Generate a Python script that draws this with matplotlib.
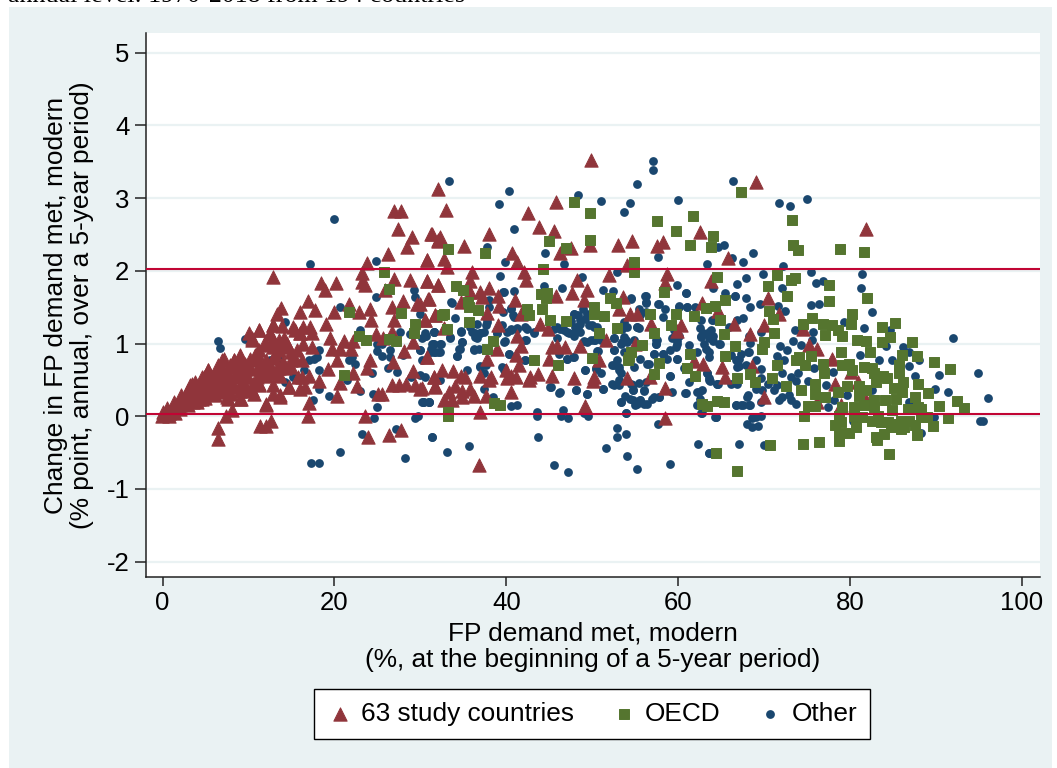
import numpy as np
import matplotlib
matplotlib.use("Agg")
import matplotlib.pyplot as plt
from matplotlib.patches import Rectangle

plt.rcParams['font.family'] = ['Liberation Sans', 'DejaVu Sans']
plt.rcParams['axes.unicode_minus'] = False

x_ticks = [0, 20, 40, 60, 80, 100]
y_ticks = [-2, -1, 0, 1, 2, 3, 4, 5]
ref_lines = [0.03, 2.03]
x_title = "FP demand met, modern\n(%, at the beginning of a 5-year period)"
y_title = "Change in FP demand met, modern\n(% point, annual, over a 5-year period)"
cut_title = "annual level: 1970-2018 from 194 countries"
labels = ["63 study countries", "OECD", "Other"]

# valori: (domanda soddisfatta, variazione annua)
other_pts = [
    (20.0,2.71),(17.2,2.1),(24.8,2.13),(29.3,1.74),(29.4,1.64),(24.8,1.64),(20.7,1.5),(30,1.4),(14.3,1.3),(6.5,1.03),
    (6.7,.94),(9.6,1.06),(23,1.18),(27.6,1.16),(31.6,1.16),(30.7,1.11),(30.2,1.07),(28.8,1.13),(25,1),(25.5,1),
    (26.5,.91),(25,.9),(25.5,.83),(26.5,.82),(28,.84),(30,.91),(31.4,1),(31.7,.88),(30.2,.78),(18,.82),
    (18.2,.91),(17,.78),(17.6,.79),(18.2,.63),(21.7,.78),(22,.81),(22.4,.72),(26.2,.66),(27.3,.61),(24.4,.59),
    (21.5,.5),(28.9,.54),(30,.57),(16.5,.63),(15.2,.54),(14.2,.47),(12.5,.78),(13.5,.77),(18.2,.38),(23,.35),
    (24.5,.31),(19.4,.28),(17.5,.23),(25,.13),(30.3,.2),(31,.2),(24.6,-.03),(29.4,-.02),(29.7,.01),(23.2,-.24),
    (27.2,-.18),(31.3,-.29),(20.6,-.49),(17.3,-.64),(18.2,-.64),(28.2,-.57),
    (57.1,3.51),(57.1,3.39),(33.3,3.23),(55.2,3.2),(40.3,3.1),(48.4,3.04),(39.2,2.92),(51,2.96),(54.4,2.93),(53.7,2.81),
    (60,2.97),(40.9,2.57),(37.8,2.33),(44.5,2.25),(39.8,2.12),(46.7,2.1),(57.6,2.19),(63.4,2.1),(39.3,1.93),(48.8,1.92),
    (52.9,1.98),(44.4,1.79),(46.5,1.77),(40.9,1.72),(39.6,1.71),(51.2,1.74),(52.4,1.72),(59.9,1.81),(60.9,1.7),(64.1,1.77),
    (33.6,1.57),(38,1.6),(56.1,1.66),(56.2,1.57),(54.5,1.61),(57.7,1.55),(40.5,1.49),(55.4,1.47),(58.5,1.47),(60.1,1.51),
    (61,1.5),(62,1.5),(39.6,1.43),(47.9,1.41),(40.8,1.39),(34,1.35),(47.5,1.31),(49.2,1.34),(48.4,1.39),(48,1.23),
    (48.6,1.27),(48.9,1.47),(50,1.25),(50.6,1.23),(41.3,1.22),(42.2,1.23),(43.2,1.15),(40.5,1.18),(39.5,1.25),(37.8,1.3),
    (36.6,1.27),(36,1.16),(37,1.14),(36.4,1.09),(34.7,1.17),(31.6,1.16),(30.6,1.11),(33.4,1.08),(38.9,1.14),(39.9,1.03),
    (34.9,1.02),(32.4,.99),(31.5,.99),(34.6,.93),(31.2,.89),(32.1,.89),(36.2,.91),(34.3,.83),(42.3,1.05),(40.3,.86),
    (42.2,.77),(45.9,1.23),(46.7,1.18),(47.3,1.14),(47.9,1.11),(45.9,1.07),(49,1.04),(49.8,1.05),(50.7,.9),(52.5,.91),
    (53.3,.99),(54.1,1.02),(52.5,1.07),(54.9,1.05),(52.9,.77),(52.3,.7),(53.1,.68),(53.3,.59),(53.1,.5),(52.3,.44),
    (54.9,.68),(55.6,.79),(56.4,.72),(57.2,.86),(58.2,.86),(58.7,.79),(59.9,.79),(57.4,1),(57.5,1.05),(59.5,1.09),
    (59.9,1),(55.2,1.23),(55.4,1.21),(54.1,1.23),(62.5,1.21),(62.6,1.09),(63.8,1.11),(64,1.32),(62.6,1.32),(64.8,1),
    (60.7,.66),(59.1,.56),(61.3,.47),(63.7,.49),(63.3,.6),(64.5,.45),(60.8,.32),(59.3,.33),(62.2,.33),(62.5,.24),
    (54.5,.45),(55.4,.46),(56,.35),(54.7,.36),(53.8,.28),(54.4,.24),(53.3,.2),(55.2,.17),(55.6,.23),(56.4,.17),
    (57,.24),(57.8,.27),(51.2,.37),(49.4,.3),(48.1,.36),(46.2,.33),(45.2,.4),(49.2,.64),(50.4,.66),(53.9,.04),
    (41.2,.15),(40.5,.14),(30.2,.2),(31,.2),(43.6,.06),(43.6,0),(46.6,.09),(46.4,0),(47.2,-.03),(49,.04),
    (49.5,0),(62.7,.04),(64.4,-.01),(57.6,-.1),(52.9,-.16),(52.9,-.28),(53.9,-.24),(31.3,-.28),(43.7,-.29),(35.7,-.41),
    (33.1,-.49),(51.6,-.44),(54.1,-.55),(62.3,-.38),(63.6,-.51),(45.6,-.67),(47.2,-.76),(55.2,-.73),(59,-.65),(35.4,.63),
    (37,.68),(39.7,.66),(38.5,.27),(32.3,.5),(30.6,.54),(47.8,.81),(47.1,.79),
    (66.4,3.23),(71.7,2.93),(73,2.89),(75,2.99),(65.3,2.36),(64.6,2.33),(68.7,2.24),(67.5,2.12),(66.3,2.17),(72.2,2.06),
    (69.9,1.96),(67.9,1.9),(75.5,1.98),(76,1.83),(76.8,1.86),(66.9,1.82),(81.4,1.95),(81.3,1.77),(72.1,1.76),(65.4,1.7),
    (66.6,1.66),(67.9,1.63),(68.4,1.5),(69.5,1.54),(71.6,1.52),(72.4,1.45),(75.5,1.53),(76.4,1.55),(82.6,1.44),(79.3,1.3),
    (81.6,1.22),(84.6,1.18),(92,1.07),(63.9,1.32),(67.5,1.35),(66.9,1.32),(65.9,1.23),(73.6,1.19),(75.7,1.16),(69.6,1.16),
    (63.6,1.16),(64,1.11),(64.9,1),(68.2,1.11),(68.3,1.01),(71.9,.97),(73.4,1.03),(74.3,.98),(75.6,1.05),(79.2,1.09),
    (84.2,.96),(86.2,.95),(86.8,.88),(81.1,.84),(83.4,.78),(84.9,.78),(88,.77),(86.8,.69),(87.5,.56),(90.3,.57),
    (94.9,.6),(89.9,.38),(91.4,.34),(96,.25),(95.1,-.06),(95.5,-.06),(89.8,-.01),(88.2,-.23),(67.1,-.38),(70,-.39),
    (63.6,-.51),(68.6,-.03),(69.6,.01),(68,-.11),(68.6,-.15),(69.3,-.14),(64.3,-.01),(62.8,.04),(66.7,.15),(67.3,.15),
    (68.2,.15),(68,.27),(69.6,.2),(71.7,.22),(72.1,.26),(72.9,.29),(73.7,.17),(73.1,.22),(71.1,.36),(71.5,.43),
    (72.3,.77),(72.7,.91),(71.5,.83),(73.9,.6),(73.1,.54),(73.7,.49),(75.1,.49),(72.1,.6),(70.4,.45),(69,.37),
    (66.9,.45),(64.5,.44),(63.6,.5),(63.3,.6),(67.1,.69),(66.7,.78),(67.3,.85),(68.2,.88),(69,.77),(63.6,.81),
    (78,.61),(77.2,.43),(77.4,.13),(78.1,.22),(79.7,.29),(82.6,.36),(86.9,.2),(80.3,-.06),(75.8,.66),(62.9,1.14),
    # zona centrale
    (54.5,1.62),(56.2,1.66),(56.2,1.56),(57.8,1.55),(60.9,1.7),(60.1,1.5),(61,1.5),(66.6,1.65),(56.2,1.43),(58.2,1.37),
    (55.6,1.39),(53.7,1.3),(55.2,1.23),(53.5,1.2),(52.5,1.07),(53.5,1.02),(53.9,1.05),(50.3,1.05),(52.5,.91),(53.7,.88),
    (52.5,.7),(53.1,.63),(51,.59),(52.5,.43),(53.1,.43),(51.2,.37),(54.7,.43),(56,.36),(54.7,.36),(57.4,1),
    (57.4,1.05),(59.1,.91),(59.7,.95),(59.9,1.04),(60.1,1.11),(59.5,1.18),(59.3,1.07),(57.2,.86),(58.2,.86),(59.9,.79),
    (56.6,.72),(59.1,.56),(60.9,.32),(62.4,.33),(62.6,1.11),(63,1),(63.2,.93),(63.8,1.18),(63.6,1.07),(64,1.04),
    (62.2,.88),(61.3,.98),(63.6,.88),(66.1,.84),(67.1,.79),(68.1,.88),(66.9,.68),(67.9,.7),(63.6,.52),(64.6,.45),
    (66.1,.45),(68.1,.29),(66.7,.15),(67.5,.15),(68.4,.15),(69.6,.65),(69.6,.52),(69.8,.36),(69,-.01),(64.4,-.01),
    (69.6,.91),(53.7,1.09),(56.2,.47),(54.7,.22),(56,.17),(57.2,.27),(53.3,.19),(53.9,.04),(55,.15),(55.6,.22),
    (57.8,.27),(62.2,.15),(62.8,.36),
    (33.7,1.56),(30.6,1.14),(31.6,1.16),(33.5,1.09),(34.7,1.16),(34.9,1.02),(34.5,.93),(34.3,.83),(31.6,1),(32.3,1),
    (31.2,.93),(31.6,.88),(32.3,.88),(30,.91),(36.2,.92),(36.8,.92),(35.8,1.23),(36.4,1.14),(37,1.14),(37.4,1.16),
    (36.6,1.07),(37.6,1.25),(37.8,1.34),(38,1.5),(39.7,1.71),(40.5,1.48),(40.9,1.37),(40.5,1.2),(41.3,1.2),(42.4,1.2),
    (43.2,1.16),(40.1,1.16),(38.9,1.14),(39.7,1.02),(40.3,.86),(42.2,1.05),(42.2,.78),(37,.69),(37.6,.7),(39.5,.68),
    (37.4,.38),(45.1,.4),(46.1,.32),(48.1,.36),(49.4,.3),(49.2,.64),(50.4,.65),(45.5,1.2),(46.3,1.2),(47.1,1.16),
    (47.9,1.14),(48.6,1.16),(48.3,1.23),(48.6,1.32),(49.4,1.41),(49.6,1.25),(50.2,1.23),(49.4,1.02),(50.2,1.05),(51,1.05),
    (50.6,.9),(47.1,.79),(47.9,.82),(46.1,.86),(47.9,1.41),(30.4,.2),(31,.2),(37.4,.59),(39.7,.63),
]

tri_pts = [
    # cuneo fitto in basso a sinistra
    (.3,.02),(.8,.05),(1,.08),(1.5,.12),(2,.15),(2.5,.18),(3,.22),(3.5,.28),(4,.3),(4.5,.35),
    (5,.4),(5.5,.5),(6,.55),(6.5,.6),(7,.65),(7.5,.6),(8,.5),(8.5,.7),(9,.6),(9.5,.45),
    (10,.7),(10.5,.45),(3,.15),(4,.2),(5,.25),(6,.3),(7,.35),(8,.3),(9,.35),(2,.1),
    (5,.5),(6,.4),(7,.5),(8,.45),(10,.35),(11,.65),(12,.55),(12.5,.7),(13,.8),(14,.75),(15,.68),
    (.3,.04),(1.1,.08),(1.85,.15),(2.6,.24),(3.2,.43),(4,.36),(4.6,.43),(5.3,.63),(5.3,.47),(5.9,.36),
    (6.5,.7),(7.1,.79),(6.7,.54),(7.5,.59),(7.5,.27),(8.3,.77),(9,.84),(8.5,.59),(9.2,.47),(9.6,.72),
    (10.4,.36),(10.8,.84),(11.2,.91),(11.6,.66),(11.2,.43),(12.7,.59),(13.5,.66),(13.7,.29),(14.7,.4),(3,.36),
    (2.2,.24),(.7,.04),(4.2,.24),(4.8,.29),(5.5,.31),(6.7,.33),(6.9,.43),(8.1,.4),(4.6,.54),(5.9,.54),
    (3.8,.47),(9,.24),(12,.15),(6.3,.4),(7.9,.7),(10,.54),(12,.77),(13.1,.86),(13.9,.95),(12.5,1.14),
    (13.5,1.05),(14.5,1),(15.6,.91),(16.2,.77),(10.4,1.07),(11.2,1.18),(12.9,1.25),(12,.98),(15.4,1.18),(16,1.14),
    (15,.77),(15.8,.54),(16.6,.4),
    (32.1,3.12),(26.9,2.82),(27.7,2.82),(27.4,2.57),(29,2.47),(31.3,2.51),(32.1,2.42),(28.4,2.33),(26.2,2.23),(30.8,2.15),
    (23.8,2.11),(23.2,1.97),(23.2,1.85),(23.6,1.8),(26.9,1.89),(28.8,1.87),(30.8,1.86),(32,1.8),(25.9,1.73),(12.8,1.92),
    (18.5,1.83),(18.9,1.74),(20.2,1.83),(28,1.59),(30.9,1.61),(29.6,1.55),(16.9,1.59),(21.7,1.54),(26.7,1.5),(24.2,1.48),
    (13.8,1.49),(13.3,1.41),(16,1.44),(17.7,1.46),(20,1.44),(22.9,1.43),(31.7,1.39),(30.6,1.32),(24.3,1.32),(26.9,1.32),
    (19,1.27),(12.9,1.25),(13.9,1.24),(15.2,1.23),(16.4,1.23),(17.2,1.23),(11.2,1.18),(10.1,1.14),(10.4,1.05),(12.5,1.13),
    (12.7,1.05),(14.1,1.08),(16,1.15),(17.4,1.14),(19.5,1.08),(21.1,1.04),(22.2,1.04),(24.8,1.13),(25.7,1.08),(26.7,1.16),
    (29.2,1.02),(11.8,.99),(12.9,.95),(14.5,.99),(16.4,.99),(17.4,.95),(19.7,.92),(20.7,.93),(21.9,.92),(28.1,.9),
    (30.8,.82),(11,.87),(13.5,.91),(14.9,.88),(15.4,.79),(6.9,.77),(9,.82),(8.3,.77),(10.2,.79),(11.2,.77),
    (20.3,.77),(24.2,.77),(26.8,.74),(6.7,.68),(5.3,.63),(7.9,.68),(9,.68),(10.2,.66),(12,.66),(13.3,.66),
    (14.3,.66),(19.3,.65),(23.8,.66),(29.1,.62),(31.6,.54),(4.8,.54),(5.9,.54),(7.1,.56),(8.4,.54),(9.6,.54),
    (11,.54),(11.8,.59),(13.7,.56),(16.2,.54),(17,.55),(22.2,.6),(3.4,.45),(4.4,.45),(5.5,.43),(6.7,.43),
    (7.9,.43),(9,.41),(11.2,.45),(12.9,.43),(14.7,.4),(18.2,.49),(20.6,.46),(22.6,.41),(26.7,.43),(27.5,.43),
    (28.3,.45),(29.4,.43),(30,.38),(31.7,.4),(2.2,.29),(3.2,.31),(4.6,.24),(6.1,.29),(7.6,.24),(9.1,.24),
    (10.6,.31),(12.9,.31),(16,.38),(13.7,.26),(20.3,.28),(25.1,.31),(25.5,.3),(1.3,.2),(2.4,.2),(3.6,.2),
    (.5,.11),(1.3,.11),(1.7,.13),(-.1,.01),(.7,.01),(1.5,.04),(.1,.06),(12,.17),(17.1,.18),(8.1,.09),
    (7.4,0),(16.9,0),(23.6,0),(12.6,-.06),(11.4,-.13),(12,-.14),(6.4,-.16),(6.4,-.31),(23.9,-.28),(26.3,-.26),(27.7,-.19),
    (49.8,3.52),(33,2.83),(45.8,2.94),(42.5,2.79),(43.8,2.6),(45.5,2.55),(38,2.51),(31.2,2.51),(32.3,2.46),(32.1,2.41),
    (35.1,2.34),(47.5,2.32),(46.3,2.25),(49.7,2.35),(53,2.36),(54.6,2.41),(58.2,2.39),(57.5,2.34),(62.5,2.54),(40.7,2.24),
    (41.3,2.12),(32.8,2.16),(30.8,2.15),(33.1,2.05),(54.1,2.08),(36,1.99),(42.1,1.98),(42.3,1.88),(35.8,1.86),(30.8,1.86),
    (32.1,1.81),(51.9,1.94),(48.2,1.87),(58.7,1.96),(58.5,1.83),(38,1.76),(37,1.71),(35.8,1.71),(49.4,1.74),(47.6,1.7),
    (39,1.66),(41,1.6),(45.8,1.66),(31,1.61),(37.2,1.64),(49,1.6),(53.6,1.64),(34.7,1.57),(39.1,1.52),(30,1.54),
    (37.7,1.42),(31.7,1.39),(30.6,1.33),(41.7,1.4),(53.1,1.48),(54.4,1.41),(55.2,1.4),(62.8,1.56),(39,1.26),(32.7,1.22),
    (43.9,1.27),(44.8,1.2),(56.8,1.27),(60.3,1.25),(59.9,1.17),(41.2,1.1),(51.6,1.05),(55,1),(41.7,.96),(38.9,.92),
    (45.3,.95),(45.9,.97),(46.8,.95),(48.6,.97),(41.1,.84),(30.8,.82),(37.7,.79),(45,.79),(50.8,.78),(61.8,.76),
    (62.9,.72),(41.5,.7),(40,.63),(32.5,.63),(33.8,.62),(31.6,.54),(34.7,.55),(35.2,.54),(36.9,.56),(38.2,.54),
    (38,.5),(40.5,.56),(40.1,.52),(41.1,.54),(42.8,.54),(42.6,.5),(43.7,.58),(45.3,.56),(47.9,.52),(50.2,.54),
    (50.1,.49),(54,.52),(56.7,.54),(31.7,.41),(30.2,.39),(34,.41),(34.9,.35),(35.8,.37),(33.3,.33),(37.6,.28),
    (36.2,.28),(34.9,.26),(32.7,.22),(33.7,.22),(40.6,.33),(58.5,.39),(37,.06),(49.2,.14),(58.5,-.02),(36.8,-.67),
    (69.1,3.22),(81.8,2.57),(65.8,2.17),(63.8,1.86),(70.5,1.62),(64.6,1.45),(71.7,1.41),(66.5,1.27),(70,1.26),(74.5,1.2),
    (68.3,1.13),(75.2,.98),(76.1,.93),(77.9,.79),(65.1,.68),(68.6,.69),(65.4,.54),(78.3,.45),(70,.27),(80.9,.47),
    (80.1,.61),(81.8,.22),(76.2,.2),(78.9,.15),
]

oecd_pts = [
    (25.8,1.99),(26.3,1.75),(21.7,1.43),(27.8,1.42),(29.4,1.27),(29.3,1.15),(22.9,1.11),(23.7,1.05),(26.3,1.06),(27.2,1.04),
    (21.1,.57),(32.5,1.39),
    (47.9,2.94),(49.7,2.8),(57.5,2.69),(61.7,2.75),(59.7,2.55),(45,2.41),(49.7,2.42),(61.4,2.35),(46.9,2.31),(33.2,2.3),
    (37.5,2.24),(44.3,2.03),(54.9,2.12),(54.9,2.05),(54.9,1.99),(34.2,1.79),(35,1.73),(58.3,1.71),(35.6,1.57),(35.7,1.5),
    (36.7,1.46),(44,1.68),(44.7,1.69),(44.6,1.63),(52.1,1.62),(52.8,1.56),(42.4,1.48),(44.1,1.48),(42.7,1.39),(32.8,1.4),
    (45.1,1.33),(50.2,1.5),(50.2,1.41),(51.4,1.38),(46.9,1.31),(56.7,1.41),(59.7,1.4),(61.8,1.38),(35.7,1.29),(33.1,1.2),
    (50.8,1.15),(52.9,1.21),(59.2,1.26),(57.2,1.15),(55.8,.98),(38.4,1.04),(37.7,.92),(54.5,.89),(54.3,.82),(54.2,.77),
    (50,.8),(61.4,.85),(43.2,.77),(46,.7),(57.8,.73),(61,.66),(57.2,.58),(61.9,.55),(38.6,.18),(39.3,.15),
    (33.2,.06),(33.2,.01),
    (67.3,3.09),(73.2,2.7),(64.1,2.48),(63.8,2.33),(73.4,2.35),(73.9,2.28),(78.8,2.3),(81.6,2.26),(71.5,1.94),(73.1,1.88),
    (73.6,1.9),(64.5,1.91),(70.4,1.79),(77.6,1.81),(72.7,1.66),(77.6,1.58),(82,1.62),(65.5,1.6),(64.3,1.52),(63.2,1.49),
    (70.6,1.45),(71,1.34),(64.9,1.33),(75.6,1.35),(80.2,1.41),(80.1,1.27),(74.5,1.27),(76.9,1.27),(77.9,1.26),(78.6,1.18),
    (79.1,1.11),(77.1,1.12),(83.7,1.23),(85.2,1.28),(71.2,1.14),(65.3,1.13),(70,1.02),(69.8,.92),(66.6,.97),(80.8,1.05),
    (81.8,1.03),(83.7,1.02),(84.7,1.09),(87.2,1.02),(78.9,.88),(82.3,.88),(86.1,.84),(87.8,.83),(89.8,.74),(91.6,.65),
    (65.5,.83),(73.7,.78),(74.1,.82),(75.5,.83),(74.7,.7),(71.5,.71),(76.8,.72),(77,.6),(79.1,.71),(79.9,.72),
    (80.2,.63),(81.6,.68),(82.5,.66),(85.7,.7),(85.7,.59),(68.3,.58),(68.9,.47),(70.9,.53),(66.9,.52),(72.5,.42),
    (74.3,.36),(75.9,.45),(75.9,.31),(77.1,.26),(78.6,.34),(79.6,.41),(81,.41),(81,.28),(81.8,.36),(83,.47),
    (82.8,.59),(83.8,.56),(84.3,.52),(86.2,.47),(85.1,.39),(86.1,.33),(85.3,.24),(87.9,.44),(89.1,.32),(87.6,.27),
    (84.1,.22),(82.8,.22),(92.5,.21),(93.2,.12),(90.4,.14),(91.4,-.03),(89.7,-.14),(89,-.01),(87.8,-.26),(84.5,-.52),
    (83.1,-.32),(78.7,-.34),(76.4,-.36),(74.5,-.38),(70.7,-.39),(64.4,-.51),(66.9,-.75),(74.6,.01),(75.1,.14),(75.9,.14),
    (64.5,.21),(65.3,.19),(63.4,.14),(62.8,.17),
    (79.1,.13),(78.7,.01),(78.3,-.12),(78.9,-.08),(78.7,-.23),(79.9,-.23),(80.7,-.15),(80.5,.13),(81.6,.15),(80.5,.01),
    (81.4,-.01),(82.8,.13),(82.6,-.06),(83.6,-.08),(84,-.24),(84.9,-.15),(85.9,-.17),(84.9,.08),(86.7,.1),(87.9,.13),
    (88.2,.1),(86.9,-.06),(87.5,-.12),(88.2,-.01),(84.4,-.08),(83.2,.01),(84.8,-.1),(85.9,-.06),(83,-.28),(86.3,-.15),
]

W, H = 1057, 768
fig = plt.figure(figsize=(W / 100, H / 100), dpi=100, facecolor='white')
fig.patches.append(Rectangle((9 / W, 0), (1052 - 9) / W, (H - 7) / H, transform=fig.transFigure,
                             facecolor='#EAF2F3', edgecolor='none', zorder=-5))
ax = fig.add_axes([146 / W, (H - 577) / H, (1040 - 146) / W, (577 - 33) / H])
ax.set_facecolor('white')

other = np.array(other_pts)
tri = np.array(tri_pts)
oecd = np.array(oecd_pts)

ax.grid(axis='y', color='#EAF2F3', lw=1.6, zorder=0)
h3 = ax.scatter(other[:, 0], other[:, 1], marker='o', s=40, color='#1A476F', lw=0, zorder=2)
h1 = ax.scatter(tri[:, 0], tri[:, 1], marker='^', s=92, color='#90353B', lw=0.7, zorder=3)
h2 = ax.scatter(oecd[:, 0], oecd[:, 1], marker='s', s=62, color='#55752F', lw=0.7, zorder=4)
for v in ref_lines:
    ax.axhline(v, color='#C10534', lw=1.5, zorder=5)

ax.set_xlim(-1.92, 102.1)
ax.set_ylim(-2.21, 5.27)
ax.set_xticks(x_ticks)
ax.set_yticks(y_ticks)
ax.tick_params(axis='y', labelsize=18.5, length=8, width=1.1, color='#222222', pad=4)
ax.tick_params(axis='x', labelsize=18.5, length=6.5, width=1.1, color='#222222', pad=3.5)
for s in ['top', 'right']:
    ax.spines[s].set_visible(False)
for s in ['left', 'bottom']:
    ax.spines[s].set_linewidth(1.1)
    ax.spines[s].set_color('#222222')

ax.set_xlabel(x_title, fontsize=18.9, linespacing=1.12, labelpad=5)
ax.set_ylabel(y_title, fontsize=18.9, linespacing=1.12, labelpad=9)

fig.legend([h1, h2, h3], labels, ncol=3, loc='center', bbox_to_anchor=(592 / W, (H - 714) / H),
           frameon=True, fancybox=False, edgecolor='black', framealpha=1, fontsize=18.9,
           handletextpad=0.3, columnspacing=1.4, borderpad=0.5, handlelength=1, scatterpoints=1)

fig.text(8 / W, 1 - 1.5 / H, cut_title, family='Liberation Serif', fontsize=18.7, va='baseline', ha='left', color='black')

fig.savefig('out.png', dpi=100)
